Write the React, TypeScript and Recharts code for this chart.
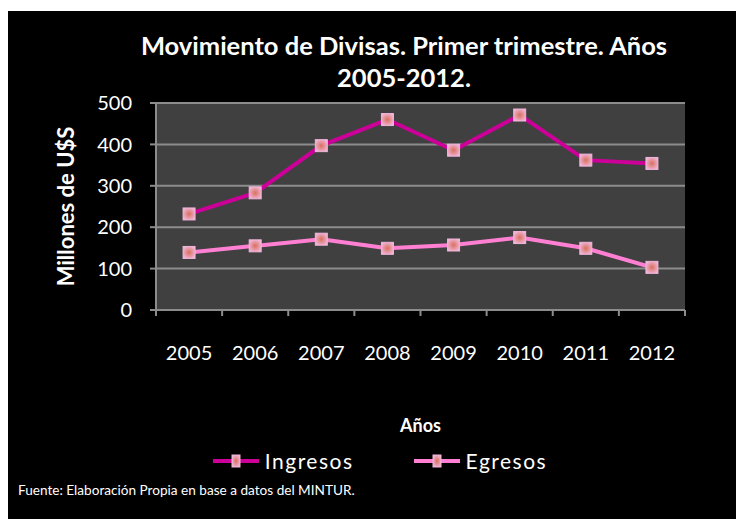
import { LineChart, Line, XAxis, YAxis, CartesianGrid, Legend, Label } from "recharts";

const years = ["2005", "2006", "2007", "2008", "2009", "2010", "2011", "2012"];
const ingresos = [232, 283, 397, 460, 386, 471, 362, 354];
const egresos = [139, 155, 171, 149, 157, 175, 149, 103];
const yTicks = [0, 100, 200, 300, 400, 500];

const seriesNames = ["Ingresos", "Egresos"];
const seriesColors = ["#cc0099", "#ff7fd2"];

const data = years.map((year, i) => ({
  year,
  Ingresos: ingresos[i],
  Egresos: egresos[i],
}));

const W = 728;
const H = 508;
const PLOT_W = 529;
const BAND = PLOT_W / years.length;
const FONT = "Lato, 'Open Sans', sans-serif";
const GRID = "#8c8c8c";

const marker = (props: any) => {
  const { cx, cy, index } = props;
  if (cx == null || cy == null) return <g key={index} />;
  return (
    <rect
      key={index}
      x={cx - 6}
      y={cy - 6}
      width={12}
      height={12}
      fill="url(#mk)"
      stroke="#f0b4da"
      strokeWidth={1}
    />
  );
};

const XTick = (props: any) => {
  const { x, y, payload, index } = props;
  const left = x - BAND / 2;
  return (
    <g>
      <line x1={left} x2={left} y1={y} y2={y + 6} stroke={GRID} strokeWidth={2} />
      {index === years.length - 1 && (
        <line x1={x + BAND / 2} x2={x + BAND / 2} y1={y} y2={y + 6} stroke={GRID} strokeWidth={2} />
      )}
      <text
        x={x}
        y={y + 42}
        textAnchor="middle"
        dominantBaseline="central"
        fill="#ffffff"
        fontSize={20}
        fontFamily={FONT}
      >
        {payload.value}
      </text>
    </g>
  );
};

const LegendContent = () => (
  <div
    style={{
      display: "flex",
      justifyContent: "center",
      paddingLeft: 16,
      fontFamily: FONT,
      fontSize: 21,
      letterSpacing: 1.5,
      color: "#ffffff",
    }}
  >
    {seriesNames.map((name, i) => (
      <div
        key={name}
        style={{ display: "flex", alignItems: "center", marginRight: i === 0 ? 60 : 0 }}
      >
        <svg width={46} height={20}>
          <line x1={0} x2={46} y1={10} y2={10} stroke={seriesColors[i]} strokeWidth={4} />
          <rect x={19} y={4} width={8} height={12} fill="url(#mk)" stroke="#f0b4da" />
        </svg>
        <span style={{ marginLeft: 6 }}>{name}</span>
      </div>
    ))}
  </div>
);

export default function App() {
  return (
    <div
      style={{
        position: "fixed",
        left: 8,
        top: 11,
        width: W,
        height: H,
        background: "#000000",
        fontFamily: FONT,
      }}
    >
      <div
        style={{
          position: "absolute",
          left: 96,
          top: 18,
          width: 600,
          textAlign: "center",
          color: "#ffffff",
          fontWeight: 700,
          fontSize: 25.5,
          lineHeight: "32px",
        }}
      >
        Movimiento de Divisas. Primer trimestre. Años
        <br />
        2005-2012.
      </div>

      <LineChart
        width={W}
        height={H}
        data={data}
        margin={{ top: 92, right: 51, bottom: 60, left: 28 }}
      >
        <defs>
          <radialGradient id="mk" cx="50%" cy="50%" r="60%">
            <stop offset="0%" stopColor="#d9705e" />
            <stop offset="100%" stopColor="#f2b8dc" />
          </radialGradient>
        </defs>
        <CartesianGrid
          vertical={false}
          stroke={GRID}
          strokeWidth={2}
          fill="#404040"
          fillOpacity={1}
        />
        <XAxis
          dataKey="year"
          scale="band"
          height={124}
          tickLine={false}
          tickSize={0}
          tickMargin={0}
          axisLine={{ stroke: GRID, strokeWidth: 2 }}
          tick={<XTick />}
          interval={0}
        >
          <Label
            value="Años"
            position="insideBottom"
            offset={2}
            fill="#ffffff"
            fontSize={18}
            fontWeight={700}
            fontFamily={FONT}
          />
        </XAxis>
        <YAxis
          width={120}
          domain={[0, 500]}
          ticks={yTicks}
          tickSize={6}
          tickMargin={18}
          tickLine={{ stroke: GRID, strokeWidth: 2 }}
          axisLine={{ stroke: GRID, strokeWidth: 2 }}
          tick={{ fill: "#ffffff", fontSize: 20, fontFamily: FONT }}
        >
          <Label
            content={(p: any) => {
              const vb = p.viewBox;
              const cx = vb.x + 29;
              const cy = vb.y + vb.height / 2;
              return (
                <text
                  x={cx}
                  y={cy}
                  transform={`rotate(-90 ${cx} ${cy})`}
                  textAnchor="middle"
                  dominantBaseline="central"
                  fill="#ffffff"
                  fontSize={22}
                  fontWeight={700}
                  fontFamily={FONT}
                >
                  Millones de U$S
                </text>
              );
            }}
          />
        </YAxis>
        <Legend
          content={<LegendContent />}
          wrapperStyle={{ left: 0, top: 437, width: W }}
        />
        {seriesNames.map((name, i) => (
          <Line
            key={name}
            dataKey={name}
            stroke={seriesColors[i]}
            strokeWidth={4}
            dot={marker}
            activeDot={false}
            isAnimationActive={false}
          />
        ))}
      </LineChart>

      <div
        style={{
          position: "absolute",
          left: 10,
          top: 469,
          color: "#ffffff",
          fontSize: 13.6,
          lineHeight: "20px",
        }}
      >
        Fuente: Elaboración Propia en base a datos del MINTUR.
      </div>
    </div>
  );
}
